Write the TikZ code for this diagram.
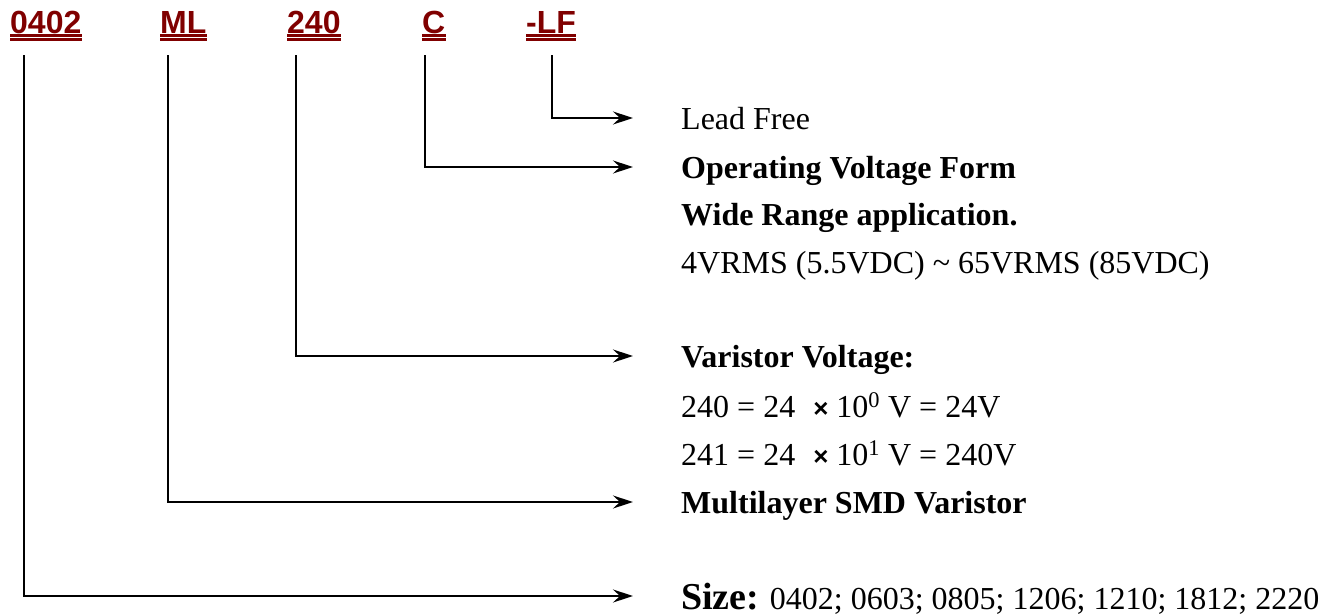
\documentclass[tikz,border=0pt]{standalone}
\usepackage{fontspec}
\setmainfont{Liberation Serif}
\newfontfamily\headfont{Liberation Sans}
\usetikzlibrary{arrows.meta,positioning}
\definecolor{maroon}{RGB}{128,0,0}
\tikzset{
  >={Stealth[length=20pt,width=13pt,inset=7pt]},
  code/.style={font=\headfont\bfseries\fontsize{32}{36}\selectfont,text=maroon,
    inner sep=0pt,anchor=base west},
  uline/.style={draw=maroon,line width=2.2pt},
  desc/.style={font=\fontsize{32}{36}\selectfont,inner sep=0pt,anchor=base west},
  bdesc/.style={font=\bfseries\fontsize{32}{36}\selectfont,inner sep=0pt,anchor=base west},
  lead/.style={->,line width=2pt,draw=black},
}
\newcommand{\timesx}{{\headfont\bfseries\fontsize{26}{26}\selectfont ×}}

\begin{document}
\begin{tikzpicture}[x=1pt,y=-1pt]
  \useasboundingbox (0,0) rectangle (1334,616);
  % part number fields
  \foreach \t/\n/\x in {0402/p0402/10,ML/pML/160,240/p240/287,C/pC/422,-LF/pLF/526}{
    \node[code] (\n) at (\x,33) {\t};
    \draw[uline] ([yshift=-2.5pt]\n.base west) -- ([yshift=-2.5pt]\n.base east)
      ([yshift=-6.5pt]\n.base west) -- ([yshift=-6.5pt]\n.base east);
  }
  \foreach \n/\x in {s0402/24,sML/168,s240/296,sC/425,sLF/552}
    \coordinate (\n) at (\x,55);
  % meanings
  \node[desc] (dLF) at (681,129) {Lead Free};
  \node[bdesc] (dC) at (681,178) {Operating Voltage Form};
  \node[bdesc] (dC2) at (681,225) {Wide Range application.};
  \node[desc] (dC3) at (681,273) {4VRMS (5.5VDC) \textasciitilde{} 65VRMS (85VDC)};
  \node[bdesc] (d240) at (681,367) {Varistor Voltage:};
  \node[desc] (d240b) at (681,417) {240 = 24\hspace{18pt}\timesx{} 10\textsuperscript{0} V = 24V};
  \node[desc] (d240c) at (681,465) {241 = 24\hspace{18pt}\timesx{} 10\textsuperscript{1} V = 240V};
  \node[bdesc] (dML) at (681,513) {Multilayer SMD Varistor};
  \node[desc] (dSize) at (681,609) {{\bfseries\fontsize{38}{40}\selectfont Size:} 0402; 0603; 0805; 1206; 1210; 1812; 2220};
  % leaders
  \draw[lead] (sLF) |- ([xshift=-48pt,yshift=11pt]dLF.base west);
  \draw[lead] (sC) |- ([xshift=-48pt,yshift=11pt]dC.base west);
  \draw[lead] (s240) |- ([xshift=-48pt,yshift=11pt]d240.base west);
  \draw[lead] (sML) |- ([xshift=-48pt,yshift=11pt]dML.base west);
  \draw[lead] (s0402) |- ([xshift=-48pt,yshift=13pt]dSize.base west);
\end{tikzpicture}
\end{document}
